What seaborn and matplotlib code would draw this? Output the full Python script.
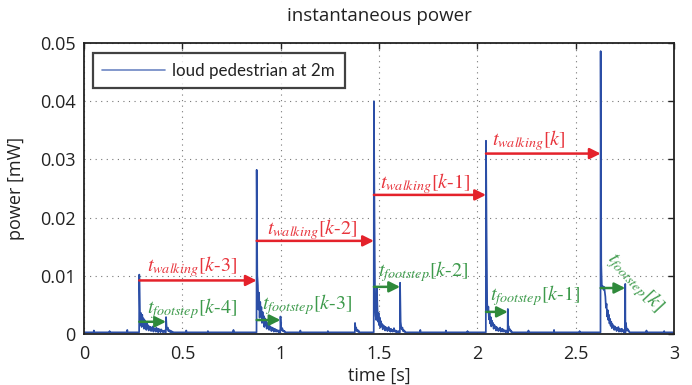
import numpy as np
import pandas as pd
import matplotlib
matplotlib.use("Agg")
import matplotlib.pyplot as plt
import seaborn as sns

# ---- signal data (power in mW, time in s) ----
dt = 0.003            # sample spacing inside a burst
baseline_level = 0.00028

burst_onsets = [0.281, 0.878, 1.474, 2.044, 2.627]
burst1 = [0.0102, 0.0041, 0.0015, 0.0036, 0.0012, 0.0033, 0.0018, 0.0027, 0.0009,
          0.0024, 0.0014, 0.0021, 0.0007, 0.0019, 0.0011, 0.0015, 0.0006, 0.0013,
          0.0009, 0.0012, 0.0005, 0.0011, 0.0008, 0.0013, 0.0004, 0.0010, 0.0007,
          0.0009, 0.0004, 0.0011, 0.0006, 0.0008, 0.0003, 0.0009, 0.0005, 0.0007,
          0.0003, 0.0008, 0.0005, 0.0006, 0.0003, 0.0005, 0.0004, 0.0006, 0.0003]
burst2 = [0.0282, 0.0101, 0.0084, 0.0042, 0.0071, 0.0028, 0.0055, 0.0035, 0.0046,
          0.0019, 0.0038, 0.0024, 0.0031, 0.0012, 0.0027, 0.0016, 0.0022, 0.0009,
          0.0019, 0.0013, 0.0016, 0.0007, 0.0014, 0.0010, 0.0012, 0.0005, 0.0011,
          0.0008, 0.0010, 0.0004, 0.0009, 0.0006, 0.0008, 0.0004, 0.0007, 0.0005,
          0.0006, 0.0003, 0.0006, 0.0004]
burst3 = [0.0400, 0.0200, 0.0052, 0.0031, 0.0024, 0.0080, 0.0045, 0.0021, 0.0036,
          0.0015, 0.0028, 0.0011, 0.0022, 0.0014, 0.0017, 0.0008, 0.0015, 0.0010,
          0.0013, 0.0006, 0.0012, 0.0008, 0.0010, 0.0005, 0.0009, 0.0012, 0.0006,
          0.0008, 0.0004, 0.0009, 0.0005, 0.0007, 0.0004, 0.0006, 0.0010, 0.0005,
          0.0004, 0.0006, 0.0003, 0.0005, 0.0004, 0.0003, 0.0005, 0.0003]
burst4 = [0.0332, 0.0173, 0.0052, 0.0038, 0.0047, 0.0025, 0.0036, 0.0018, 0.0029,
          0.0013, 0.0023, 0.0016, 0.0019, 0.0009, 0.0016, 0.0011, 0.0013, 0.0006,
          0.0012, 0.0008, 0.0010, 0.0005, 0.0009, 0.0007, 0.0011, 0.0004, 0.0008,
          0.0006, 0.0009, 0.0004, 0.0007, 0.0005, 0.0006, 0.0003, 0.0006, 0.0004,
          0.0005]
burst5 = [0.0486, 0.0119, 0.0083, 0.0079, 0.0082, 0.0076, 0.0081, 0.0072, 0.0064,
          0.0045, 0.0052, 0.0030, 0.0041, 0.0024, 0.0033, 0.0018, 0.0026, 0.0014,
          0.0021, 0.0010, 0.0017, 0.0012, 0.0014, 0.0007, 0.0013, 0.0009, 0.0011,
          0.0005, 0.0010, 0.0007, 0.0012, 0.0004, 0.0009, 0.0006, 0.0008, 0.0004,
          0.0009, 0.0005, 0.0007, 0.0003, 0.0006, 0.0005]
burst_samples = [burst1, burst2, burst3, burst4, burst5]

# smaller secondary impacts (heel/toe echoes and one stray knock)
echo_times = [0.417, 0.999, 1.378, 1.607, 2.155, 2.752]
echo1 = [0.0029, 0.0012, 0.0008, 0.0011, 0.0005, 0.0007, 0.0004, 0.0006, 0.0003, 0.0005, 0.0003, 0.0004]
echo2 = [0.0030, 0.0011, 0.0007, 0.0010, 0.0005, 0.0006, 0.0004, 0.0005, 0.0003]
echo3 = [0.0019, 0.0008, 0.0011, 0.0005, 0.0007, 0.0004, 0.0006, 0.0003]
echo4 = [0.0088, 0.0021, 0.0012, 0.0008, 0.0011, 0.0005, 0.0007, 0.0004, 0.0005, 0.0003]
echo5 = [0.0043, 0.0014, 0.0009, 0.0006, 0.0008, 0.0004, 0.0005, 0.0003]
echo6 = [0.0086, 0.0019, 0.0011, 0.0007, 0.0009, 0.0005, 0.0006, 0.0003]
echo_samples = [echo1, echo2, echo3, echo4, echo5, echo6]

# isolated noise blips on the floor
blip_times = [0.05, 0.13, 0.22, 0.52, 0.63, 0.76, 1.10, 1.24, 1.71, 1.84, 1.95,
              2.26, 2.39, 2.52, 2.86, 2.95]
blip_values = [0.0006, 0.0005, 0.0007, 0.0006, 0.0005, 0.0007, 0.0006, 0.0005,
               0.0007, 0.0006, 0.0005, 0.0006, 0.0007, 0.0005, 0.0006, 0.0005]

# ---- assemble the time series ----
pts = [(0.0, baseline_level), (3.0, baseline_level)]
for t0, vals in zip(burst_onsets + echo_times, burst_samples + echo_samples):
    pts.append((t0 - 0.0008, baseline_level))
    pts += [(t0 + i * dt, v) for i, v in enumerate(vals)]
    pts.append((t0 + len(vals) * dt, baseline_level))
for tb, vb in zip(blip_times, blip_values):
    pts += [(tb - 0.001, baseline_level), (tb, vb), (tb + 0.001, baseline_level)]
pts.sort(key=lambda p: p[0])
df = pd.DataFrame(pts, columns=["time", "power"])

# ---- styling ----
sns.set_theme(style="white")
plt.rcParams["font.family"] = ["Open Sans", "DejaVu Sans"]
plt.rcParams["mathtext.fontset"] = "stix"

RED_ARROW = "#e4222b"
RED_TEXT = "#e8343c"
GREEN_ARROW = "#2f8a3b"
GREEN_TEXT = "#3d9a4b"
BLUE = "#2b4ea6"

fig = plt.figure(figsize=(6.92, 3.85), dpi=100)
ax = fig.add_axes([0.1214, 0.1325, 0.8526, 0.7558])

sns.lineplot(data=df, x="time", y="power", ax=ax, color=BLUE, lw=1.25,
             estimator=None, sort=False, label="loud pedestrian at 2m")

ax.set_xlim(0, 3)
ax.set_ylim(0, 0.05)
xticks = [0, 0.5, 1, 1.5, 2, 2.5, 3]
xtick_labels = ["0", "0.5", "1", "1.5", "2", "2.5", "3"]
yticks = [0, 0.01, 0.02, 0.03, 0.04, 0.05]
ytick_labels = ["0", "0.01", "0.02", "0.03", "0.04", "0.05"]
ax.set_xticks(xticks, xtick_labels)
ax.set_yticks(yticks, ytick_labels)
ax.tick_params(direction="in", length=4, width=1.0, labelsize=13, colors="#222222",
               top=True, right=True)
ax.tick_params(axis="x", pad=8)
ax.tick_params(axis="y", pad=6)
ax.grid(True, color="#777777", linestyle=(0, (1, 4)), lw=0.8)
for s in ax.spines.values():
    s.set_color("#222222")
    s.set_linewidth(1.3)

ax.set_title("instantaneous power", fontsize=13.5, color="#222222", pad=16)
ax.set_xlabel("time [s]", fontsize=13, color="#222222", labelpad=3)
ax.set_ylabel("power [mW]", fontsize=13, color="#222222", labelpad=11)

leg = ax.legend(loc="upper left", bbox_to_anchor=(0.015, 0.965), borderaxespad=0,
                prop={"family": ["Lato", "DejaVu Sans"], "size": 12.2},
                frameon=True, fancybox=False, handlelength=3.7,
                handletextpad=0.45, borderpad=0.55, labelcolor="#222222")
leg.get_frame().set_edgecolor("#111111")
leg.get_frame().set_linewidth(1.6)
for h in leg.get_lines():
    h.set_color("#6d86c4")
    h.set_linewidth(1.2)

# ---- step-interval annotations ----
walk_arrow_levels = [0.0092, 0.0160, 0.0239, 0.0310]
walk_labels = [r"$t_{walking}$[$k$-3]", r"$t_{walking}$[$k$-2]",
               r"$t_{walking}$[$k$-1]", r"$t_{walking}$[$k$]"]
walk_label_pos = [(0.549, 0.0116), (1.159, 0.0180), (1.734, 0.0259), (2.262, 0.0333)]

foot_arrow_levels = [0.0021, 0.0024, 0.0081, 0.0038, 0.0079]
foot_echo_index = [0, 1, 3, 4, 5]
foot_labels = [r"$t_{footstep}$[$k$-4]", r"$t_{footstep}$[$k$-3]",
               r"$t_{footstep}$[$k$-2]", r"$t_{footstep}$[$k$-1]",
               r"$t_{footstep}$[$k$]"]
foot_label_pos = [(0.549, 0.0044), (1.134, 0.0050), (1.723, 0.0107),
                  (2.293, 0.0066), (2.801, 0.0089)]
foot_label_rot = [0, 0, 0, 0, -47]

label_font = dict(family="STIXGeneral", fontsize=14.5, ha="center", va="center")

for i, lvl in enumerate(walk_arrow_levels):
    ax.annotate("", xy=(burst_onsets[i + 1], lvl), xytext=(burst_onsets[i], lvl),
                arrowprops=dict(arrowstyle="-|>", color=RED_ARROW, lw=1.8,
                                mutation_scale=16, shrinkA=0, shrinkB=0))
    ax.text(*walk_label_pos[i], walk_labels[i], color=RED_TEXT, **label_font)

for i, lvl in enumerate(foot_arrow_levels):
    ax.annotate("", xy=(echo_times[foot_echo_index[i]], lvl), xytext=(burst_onsets[i], lvl),
                arrowprops=dict(arrowstyle="-|>", color=GREEN_ARROW, lw=1.8,
                                mutation_scale=16, shrinkA=0, shrinkB=0))
    ax.text(*foot_label_pos[i], foot_labels[i], color=GREEN_TEXT,
            rotation=foot_label_rot[i], rotation_mode="anchor", **label_font)

fig.savefig("out.png", dpi=100)
